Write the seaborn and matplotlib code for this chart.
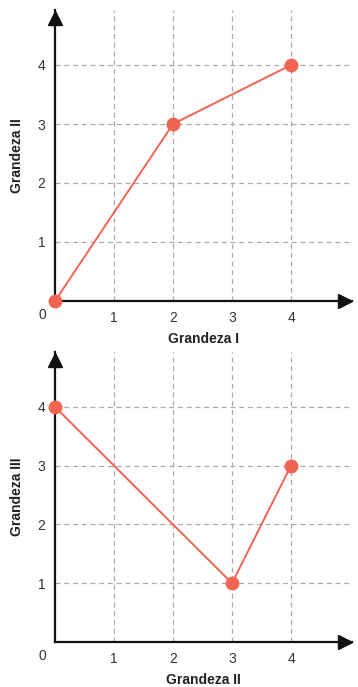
import matplotlib
matplotlib.use("Agg")
import matplotlib.pyplot as plt
from matplotlib.transforms import offset_copy
import seaborn as sns
import pandas as pd

# valores
grandeza_1 = [0, 2, 4]
grandeza_2_top = [0, 3, 4]
grandeza_2_bottom = [0, 3, 4]
grandeza_3 = [4, 1, 3]
ticks = [1, 2, 3, 4]

sns.set_style("white")
plt.rcParams['font.family'] = ['Liberation Sans', 'DejaVu Sans']

cor = "#F26452"
W, H = 358, 687

fig = plt.figure(figsize=(W / 100, H / 100), dpi=100)
# posicoes em pixels: (esq, base, topo)
ax1 = fig.add_axes([55 / W, 1 - 301 / H, 297 / W, 291 / H])
ax2 = fig.add_axes([55 / W, 1 - 642 / H, 297 / W, 290 / H])


def Grafico(ax, x, y, xlabel, ylabel):
    df = pd.DataFrame({"x": x, "y": y})
    sns.lineplot(data=df, x="x", y="y", ax=ax, color=cor, marker="o",
                 markersize=10, markeredgewidth=0, linewidth=1.4,
                 clip_on=False, zorder=5)
    ax.set_xlim(0, 297 / 59)
    ax.set_ylim(0, 291 / 59)
    ax.set_xticks(ticks)
    ax.set_yticks(ticks)
    ax.set_xticklabels([str(t) for t in ticks])
    ax.set_yticklabels([str(t) for t in ticks])
    ax.tick_params(length=0, labelsize=10, labelcolor="#333333", pad=7)
    ax.grid(True, linestyle=(0, (4, 3)), color="#aaaaaa", linewidth=0.9)
    ax.set_axisbelow(True)
    for s in ["top", "right"]:
        ax.spines[s].set_visible(False)
    for s in ["left", "bottom"]:
        ax.spines[s].set_color("#111111")
        ax.spines[s].set_linewidth(1.6)
    # setas dos eixos
    ax.plot(0, 0.972, marker="^", color="#111111", markersize=10,
            transform=ax.transAxes, clip_on=False, zorder=6)
    ax.plot(0.978, 0, marker=">", color="#111111", markersize=10,
            transform=ax.transAxes, clip_on=False, zorder=6)
    ax.text(0, 0, "0", transform=offset_copy(ax.transAxes, fig=fig, x=-13, y=-14, units="dots"),
            ha="center", va="center", fontsize=10, color="#333333")
    ax.set_xlabel(xlabel, fontsize=10, fontweight="bold", labelpad=5.5, color="#222222")
    ax.set_ylabel(ylabel, fontsize=10, fontweight="bold", labelpad=10, color="#222222")


Grafico(ax1, grandeza_1, grandeza_2_top, "Grandeza I", "Grandeza II")
Grafico(ax2, grandeza_2_bottom, grandeza_3, "Grandeza II", "Grandeza III")

fig.savefig("out.png", dpi=100)
